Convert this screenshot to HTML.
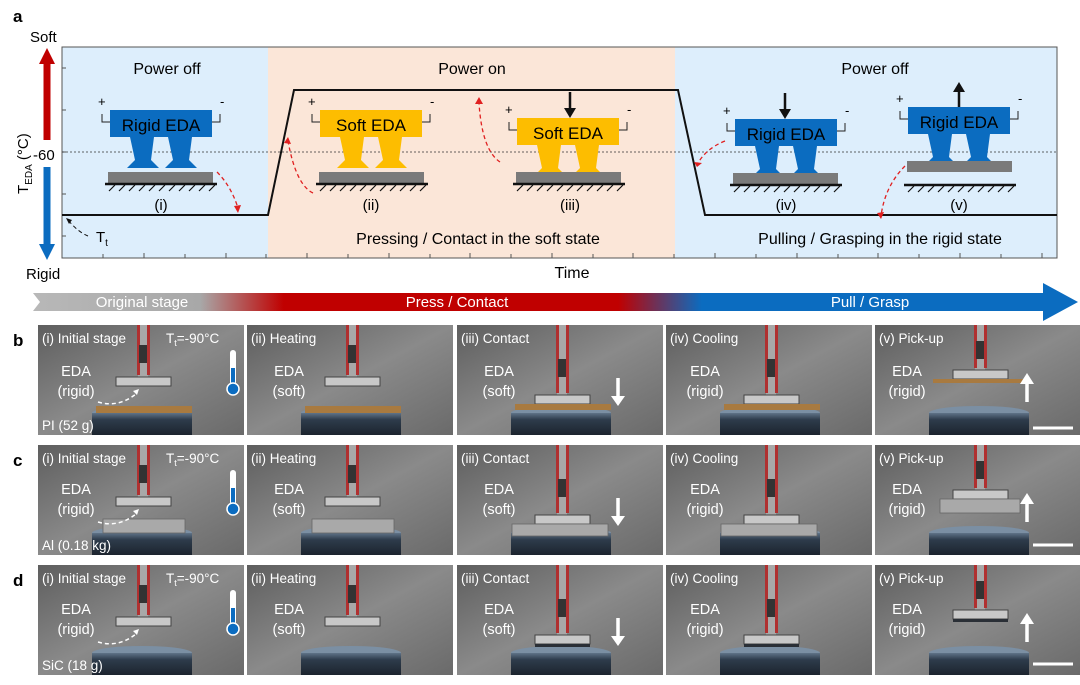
<!DOCTYPE html>
<html><head><meta charset="utf-8"><style>
html,body{margin:0;padding:0;background:#fff;}
svg{display:block;font-family:"Liberation Sans",Arial,sans-serif;}
</style></head><body>
<svg width="1080" height="685" viewBox="0 0 1080 685" xmlns="http://www.w3.org/2000/svg">
<defs>
<linearGradient id="bar" x1="0" x2="1" y1="0" y2="0">
<stop offset="0" stop-color="#b8b8b8"/><stop offset="0.16" stop-color="#a8a8a8"/>
<stop offset="0.24" stop-color="#c00000"/><stop offset="0.56" stop-color="#c00000"/>
<stop offset="0.64" stop-color="#0b6cc0"/><stop offset="1" stop-color="#0b6cc0"/>
</linearGradient>
<linearGradient id="metal" x1="0" x2="1" y1="0" y2="1">
<stop offset="0" stop-color="#5e5e5e"/><stop offset="0.5" stop-color="#8a8a8a"/><stop offset="1" stop-color="#6a6a6a"/>
</linearGradient>
<linearGradient id="disc" x1="0" x2="0" y1="0" y2="1">
<stop offset="0" stop-color="#5f7388"/><stop offset="0.3" stop-color="#2e3c4c"/><stop offset="1" stop-color="#1c242e"/>
</linearGradient>
<g id="bg">
<rect width="206" height="110" fill="url(#metal)"/>
<ellipse cx="104" cy="88" rx="50" ry="7" fill="#7b8fa3"/>
<rect x="54" y="88" width="100" height="22" fill="url(#disc)"/>
</g>
<symbol id="photoA" viewBox="0 0 206 110" width="206" height="110">
<use href="#bg"/>
<rect x="100" y="0" width="10" height="54" fill="#a8a8a8"/>
<rect x="99" y="0" width="3" height="50" fill="#b03030"/><rect x="109" y="0" width="3" height="50" fill="#b03030"/>
<rect x="101" y="20" width="8" height="18" fill="#333"/>
<rect x="78" y="52" width="55" height="9" fill="#c8c8c8" stroke="#444" stroke-width="1"/>
</symbol>
<symbol id="photoB" viewBox="0 0 206 110" width="206" height="110">
<use href="#bg"/>
<rect x="100" y="0" width="10" height="72" fill="#a8a8a8"/>
<rect x="99" y="0" width="3" height="68" fill="#b03030"/><rect x="109" y="0" width="3" height="68" fill="#b03030"/>
<rect x="101" y="34" width="8" height="18" fill="#333"/>
<rect x="78" y="70" width="55" height="9" fill="#c8c8c8" stroke="#444" stroke-width="1"/>
</symbol>
<symbol id="photoC" viewBox="0 0 206 110" width="206" height="110">
<use href="#bg"/>
<rect x="100" y="0" width="10" height="47" fill="#a8a8a8"/>
<rect x="99" y="0" width="3" height="43" fill="#b03030"/><rect x="109" y="0" width="3" height="43" fill="#b03030"/>
<rect x="101" y="16" width="8" height="18" fill="#333"/>
<rect x="78" y="45" width="55" height="9" fill="#c8c8c8" stroke="#444" stroke-width="1"/>
</symbol>
<g id="hatch" stroke="#111" stroke-width="1.2">
<line x1="0" y1="0" x2="112" y2="0" stroke-width="2.5"/>
<path d="M4 7l6-6M14 7l6-6M24 7l6-6M34 7l6-6M44 7l6-6M54 7l6-6M64 7l6-6M74 7l6-6M84 7l6-6M94 7l6-6M104 7l6-6" fill="none"/>
</g>
<g id="legs">
<path d="M20 27h24l-3 23l8 8h-32l8-8z"/>
<path d="M58 27h24l-3 23l8 8h-32l8-8z"/>
</g>
<g id="wire" stroke="#222" stroke-width="1" fill="none">
<path d="M0 12h-8v-8M102 12h8v-8"/>
</g>
</defs>

<text x="13" y="22" font-size="17" font-weight="bold">a</text>
<text x="30" y="42" font-size="15">Soft</text>
<text x="26" y="279" font-size="15">Rigid</text>
<rect x="62" y="47" width="206" height="211" fill="#ddeefc"/>
<rect x="268" y="47" width="407" height="211" fill="#fbe6d8"/>
<rect x="675" y="47" width="382" height="211" fill="#ddeefc"/>
<rect x="62" y="47" width="995" height="211" fill="none" stroke="#555" stroke-width="1"/>
<g stroke="#555" stroke-width="1">
<path d="M62 68h4M62 110h4M62 152h4M62 194h4M62 236h4"/>
<path d="M103 258v-4M144 258v-5M185 258v-4M226 258v-5M266 258v-4M307 258v-5M348 258v-4M389 258v-5M430 258v-4M470 258v-5M511 258v-4M552 258v-5M593 258v-4M633 258v-5M674 258v-4M715 258v-5M756 258v-4M797 258v-5M838 258v-4M878 258v-5M919 258v-4M960 258v-5M1001 258v-4M1042 258v-5"/>
</g>
<path d="M47 140V62" stroke="#c00000" stroke-width="7"/>
<path d="M39 64L47 48L55 64z" fill="#c00000"/>
<path d="M47 167V246" stroke="#0b6cc0" stroke-width="7"/>
<path d="M39 244L47 260L55 244z" fill="#0b6cc0"/>
<text x="33" y="160" font-size="15">-60</text>
<text transform="translate(28,194) rotate(-90)" font-size="15">T<tspan font-size="10" dy="4">EDA</tspan><tspan dy="-4"> (°C)</tspan></text>
<line x1="62" y1="152" x2="1057" y2="152" stroke="#333" stroke-width="0.8" stroke-dasharray="2,2"/>
<path d="M62 215H268L294 90H678L705 215H1057" fill="none" stroke="#111" stroke-width="2"/>
<path d="M88 236q-10 -4 -20 -16" fill="none" stroke="#111" stroke-dasharray="4,3"/>
<path d="M66 218l6 2l-3 4z" fill="#111"/>
<text x="96" y="242" font-size="15">T<tspan font-size="10" dy="4">t</tspan></text>

<text x="167" y="74" font-size="16" text-anchor="middle">Power off</text>
<text x="472" y="74" font-size="16" text-anchor="middle">Power on</text>
<text x="875" y="74" font-size="16" text-anchor="middle">Power off</text>
<text x="478" y="244" font-size="16" text-anchor="middle">Pressing / Contact in the soft state</text>
<text x="880" y="244" font-size="16" text-anchor="middle">Pulling / Grasping in the rigid state</text>
<text x="572" y="278" font-size="16" text-anchor="middle">Time</text>

<g transform="translate(110,110)">
<use href="#wire"/><text x="-12" y="-4" font-size="13">+</text><text x="110" y="-4" font-size="13">-</text>
<g fill="#0b6cc0"><rect width="102" height="27"/><use href="#legs"/></g>
<text x="51" y="21" font-size="17" text-anchor="middle">Rigid EDA</text>
</g>
<rect x="108" y="172" width="105" height="11" fill="#7a7a7a"/>
<use href="#hatch" transform="translate(105,184)"/>
<text x="161" y="210" font-size="15" text-anchor="middle">(i)</text>
<g transform="translate(320,110)">
<use href="#wire"/><text x="-12" y="-4" font-size="13">+</text><text x="110" y="-4" font-size="13">-</text>
<g fill="#fdbd00"><rect width="102" height="27"/><use href="#legs"/></g>
<text x="51" y="21" font-size="17" text-anchor="middle">Soft EDA</text>
</g>
<rect x="319" y="172" width="105" height="11" fill="#7a7a7a"/>
<use href="#hatch" transform="translate(316,184)"/>
<text x="371" y="210" font-size="15" text-anchor="middle">(ii)</text>
<g transform="translate(517,118)">
<use href="#wire"/><text x="-12" y="-4" font-size="13">+</text><text x="110" y="-4" font-size="13">-</text>
<g fill="#fdbd00"><rect width="102" height="27"/><use href="#legs"/></g>
<text x="51" y="21" font-size="17" text-anchor="middle">Soft EDA</text>
</g>
<rect x="516" y="172" width="105" height="11" fill="#7a7a7a"/>
<use href="#hatch" transform="translate(513,184)"/>
<text x="570" y="210" font-size="15" text-anchor="middle">(iii)</text>
<path d="M570 92V110" stroke="#111" stroke-width="2.5"/><path d="M564 108L570 118L576 108z" fill="#111"/>
<g transform="translate(735,119)">
<use href="#wire"/><text x="-12" y="-4" font-size="13">+</text><text x="110" y="-4" font-size="13">-</text>
<g fill="#0b6cc0"><rect width="102" height="27"/><use href="#legs"/></g>
<text x="51" y="21" font-size="17" text-anchor="middle">Rigid EDA</text>
</g>
<rect x="733" y="173" width="105" height="11" fill="#7a7a7a"/>
<use href="#hatch" transform="translate(730,185)"/>
<text x="786" y="210" font-size="15" text-anchor="middle">(iv)</text>
<path d="M785 93V111" stroke="#111" stroke-width="2.5"/><path d="M779 109L785 119L791 109z" fill="#111"/>
<g transform="translate(908,107)">
<use href="#wire"/><text x="-12" y="-4" font-size="13">+</text><text x="110" y="-4" font-size="13">-</text>
<g fill="#0b6cc0"><rect width="102" height="27"/><use href="#legs"/></g>
<text x="51" y="21" font-size="17" text-anchor="middle">Rigid EDA</text>
</g>
<rect x="907" y="161" width="105" height="11" fill="#7a7a7a"/>
<use href="#hatch" transform="translate(904,185)"/>
<text x="959" y="210" font-size="15" text-anchor="middle">(v)</text>
<path d="M959 107V90" stroke="#111" stroke-width="2.5"/><path d="M953 92L959 82L965 92z" fill="#111"/>
<g fill="none" stroke="#e02020" stroke-width="1.3" stroke-dasharray="4,3">
<path d="M217 172q14 14 21 36"/>
<path d="M313 193q-17 -8 -25 -52"/>
<path d="M500 162q-18 -12 -21 -59"/>
<path d="M725 141q-20 8 -28 24"/>
<path d="M905 166q-20 20 -24 50"/>
</g>
<g fill="#e02020">
<path d="M234 206l4 7l3 -8z"/><path d="M284 143l4 -6l3 7z"/><path d="M475 104l4 -7l4 7z"/><path d="M694 162l3 5l5 -4z"/><path d="M877 213l4 6l3 -7z"/>
</g>

<path d="M33 293H1043V283L1078 302L1043 321V311H33L40 302z" fill="url(#bar)"/>
<text x="142" y="307" font-size="15" fill="#fff" text-anchor="middle">Original stage</text>
<text x="457" y="307" font-size="15" fill="#fff" text-anchor="middle">Press / Contact</text>
<text x="870" y="307" font-size="15" fill="#fff" text-anchor="middle">Pull / Grasp</text>

<text x="13" y="346" font-size="17" font-weight="bold">b</text>
<text x="13" y="466" font-size="17" font-weight="bold">c</text>
<text x="13" y="586" font-size="17" font-weight="bold">d</text>
<g>
<use href="#photoA" x="38" y="325"/><use href="#photoA" x="247" y="325"/><use href="#photoB" x="457" y="325"/><use href="#photoB" x="666" y="325"/><use href="#photoC" x="875" y="325"/>
<use href="#photoA" x="38" y="445"/><use href="#photoA" x="247" y="445"/><use href="#photoB" x="457" y="445"/><use href="#photoB" x="666" y="445"/><use href="#photoC" x="875" y="445"/>
<use href="#photoA" x="38" y="565"/><use href="#photoA" x="247" y="565"/><use href="#photoB" x="457" y="565"/><use href="#photoB" x="666" y="565"/><use href="#photoC" x="875" y="565"/>
</g>
<!-- row b PI -->
<g fill="#a87a40">
<rect x="96" y="406" width="96" height="7"/><rect x="305" y="406" width="96" height="7"/>
<rect x="515" y="404" width="96" height="6"/><rect x="724" y="404" width="96" height="6"/>
<rect x="933" y="379" width="96" height="4"/>
</g>
<!-- row c Al -->
<g fill="#a9a9a9" stroke="#666" stroke-width="0.8">
<rect x="103" y="519" width="82" height="14"/><rect x="312" y="519" width="82" height="14"/>
<rect x="512" y="524" width="96" height="12"/><rect x="721" y="524" width="96" height="12"/>
<rect x="940" y="499" width="80" height="14"/>
</g>
<!-- row d SiC -->
<g fill="#2a2f36">
<rect x="535" y="644" width="55" height="3"/><rect x="744" y="644" width="55" height="3"/><rect x="953" y="619" width="55" height="3"/>
</g>
<g fill="#fff" font-size="13.5">
<text x="42" y="343">(i) Initial stage</text><text x="251" y="343">(ii) Heating</text><text x="461" y="343">(iii) Contact</text><text x="670" y="343">(iv) Cooling</text><text x="879" y="343">(v) Pick-up</text>
<text x="42" y="463">(i) Initial stage</text><text x="251" y="463">(ii) Heating</text><text x="461" y="463">(iii) Contact</text><text x="670" y="463">(iv) Cooling</text><text x="879" y="463">(v) Pick-up</text>
<text x="42" y="583">(i) Initial stage</text><text x="251" y="583">(ii) Heating</text><text x="461" y="583">(iii) Contact</text><text x="670" y="583">(iv) Cooling</text><text x="879" y="583">(v) Pick-up</text>
<text x="166" y="343">T<tspan font-size="9" dy="3">t</tspan><tspan dy="-3">=-90°C</tspan></text>
<text x="166" y="463">T<tspan font-size="9" dy="3">t</tspan><tspan dy="-3">=-90°C</tspan></text>
<text x="166" y="583">T<tspan font-size="9" dy="3">t</tspan><tspan dy="-3">=-90°C</tspan></text>
<text x="42" y="430">PI (52 g)</text><text x="42" y="550">Al (0.18 kg)</text><text x="42" y="670">SiC (18 g)</text>
</g>
<g fill="#fff" font-size="14.5" text-anchor="middle">
<text x="76" y="376">EDA</text><text x="76" y="396">(rigid)</text>
<text x="289" y="376">EDA</text><text x="289" y="396">(soft)</text>
<text x="499" y="376">EDA</text><text x="499" y="396">(soft)</text>
<text x="705" y="376">EDA</text><text x="705" y="396">(rigid)</text>
<text x="907" y="376">EDA</text><text x="907" y="396">(rigid)</text>
<text x="76" y="494">EDA</text><text x="76" y="514">(rigid)</text>
<text x="289" y="494">EDA</text><text x="289" y="514">(soft)</text>
<text x="499" y="494">EDA</text><text x="499" y="514">(soft)</text>
<text x="705" y="494">EDA</text><text x="705" y="514">(rigid)</text>
<text x="907" y="494">EDA</text><text x="907" y="514">(rigid)</text>
<text x="76" y="614">EDA</text><text x="76" y="634">(rigid)</text>
<text x="289" y="614">EDA</text><text x="289" y="634">(soft)</text>
<text x="499" y="614">EDA</text><text x="499" y="634">(soft)</text>
<text x="705" y="614">EDA</text><text x="705" y="634">(rigid)</text>
<text x="907" y="614">EDA</text><text x="907" y="634">(rigid)</text>
</g>
<g stroke="#fff" stroke-width="3.5">
<path d="M618 378v20M618 498v20M618 618v20"/>
<path d="M1027 402v-20M1027 522v-20M1027 642v-20"/>
<path d="M1033 428h40M1033 545h40M1033 664h40" stroke-width="3"/>
</g>
<g fill="#fff">
<path d="M611 396h14l-7 10zM611 516h14l-7 10zM611 636h14l-7 10z"/>
<path d="M1020 384h14l-7 -11zM1020 504h14l-7 -11zM1020 624h14l-7 -11z"/>
</g>
<g fill="none" stroke="#fff" stroke-width="1.5" stroke-dasharray="4,3">
<path d="M98 402q20 6 38 -8"/><path d="M98 522q20 6 38 -8"/><path d="M98 642q20 6 38 -8"/>
</g>
<g fill="#fff">
<path d="M133 391l6 -2l-2 6z"/><path d="M133 511l6 -2l-2 6z"/><path d="M133 631l6 -2l-2 6z"/>
</g>
<g>
<rect x="230" y="350" width="6" height="35" rx="3" fill="#fff"/><rect x="231" y="368" width="4" height="18" fill="#0b6cc0"/><circle cx="233" cy="389" r="6" fill="#0b6cc0" stroke="#fff" stroke-width="1.5"/>
<rect x="230" y="470" width="6" height="35" rx="3" fill="#fff"/><rect x="231" y="488" width="4" height="18" fill="#0b6cc0"/><circle cx="233" cy="509" r="6" fill="#0b6cc0" stroke="#fff" stroke-width="1.5"/>
<rect x="230" y="590" width="6" height="35" rx="3" fill="#fff"/><rect x="231" y="608" width="4" height="18" fill="#0b6cc0"/><circle cx="233" cy="629" r="6" fill="#0b6cc0" stroke="#fff" stroke-width="1.5"/>
</g>
</svg>
</body></html>
